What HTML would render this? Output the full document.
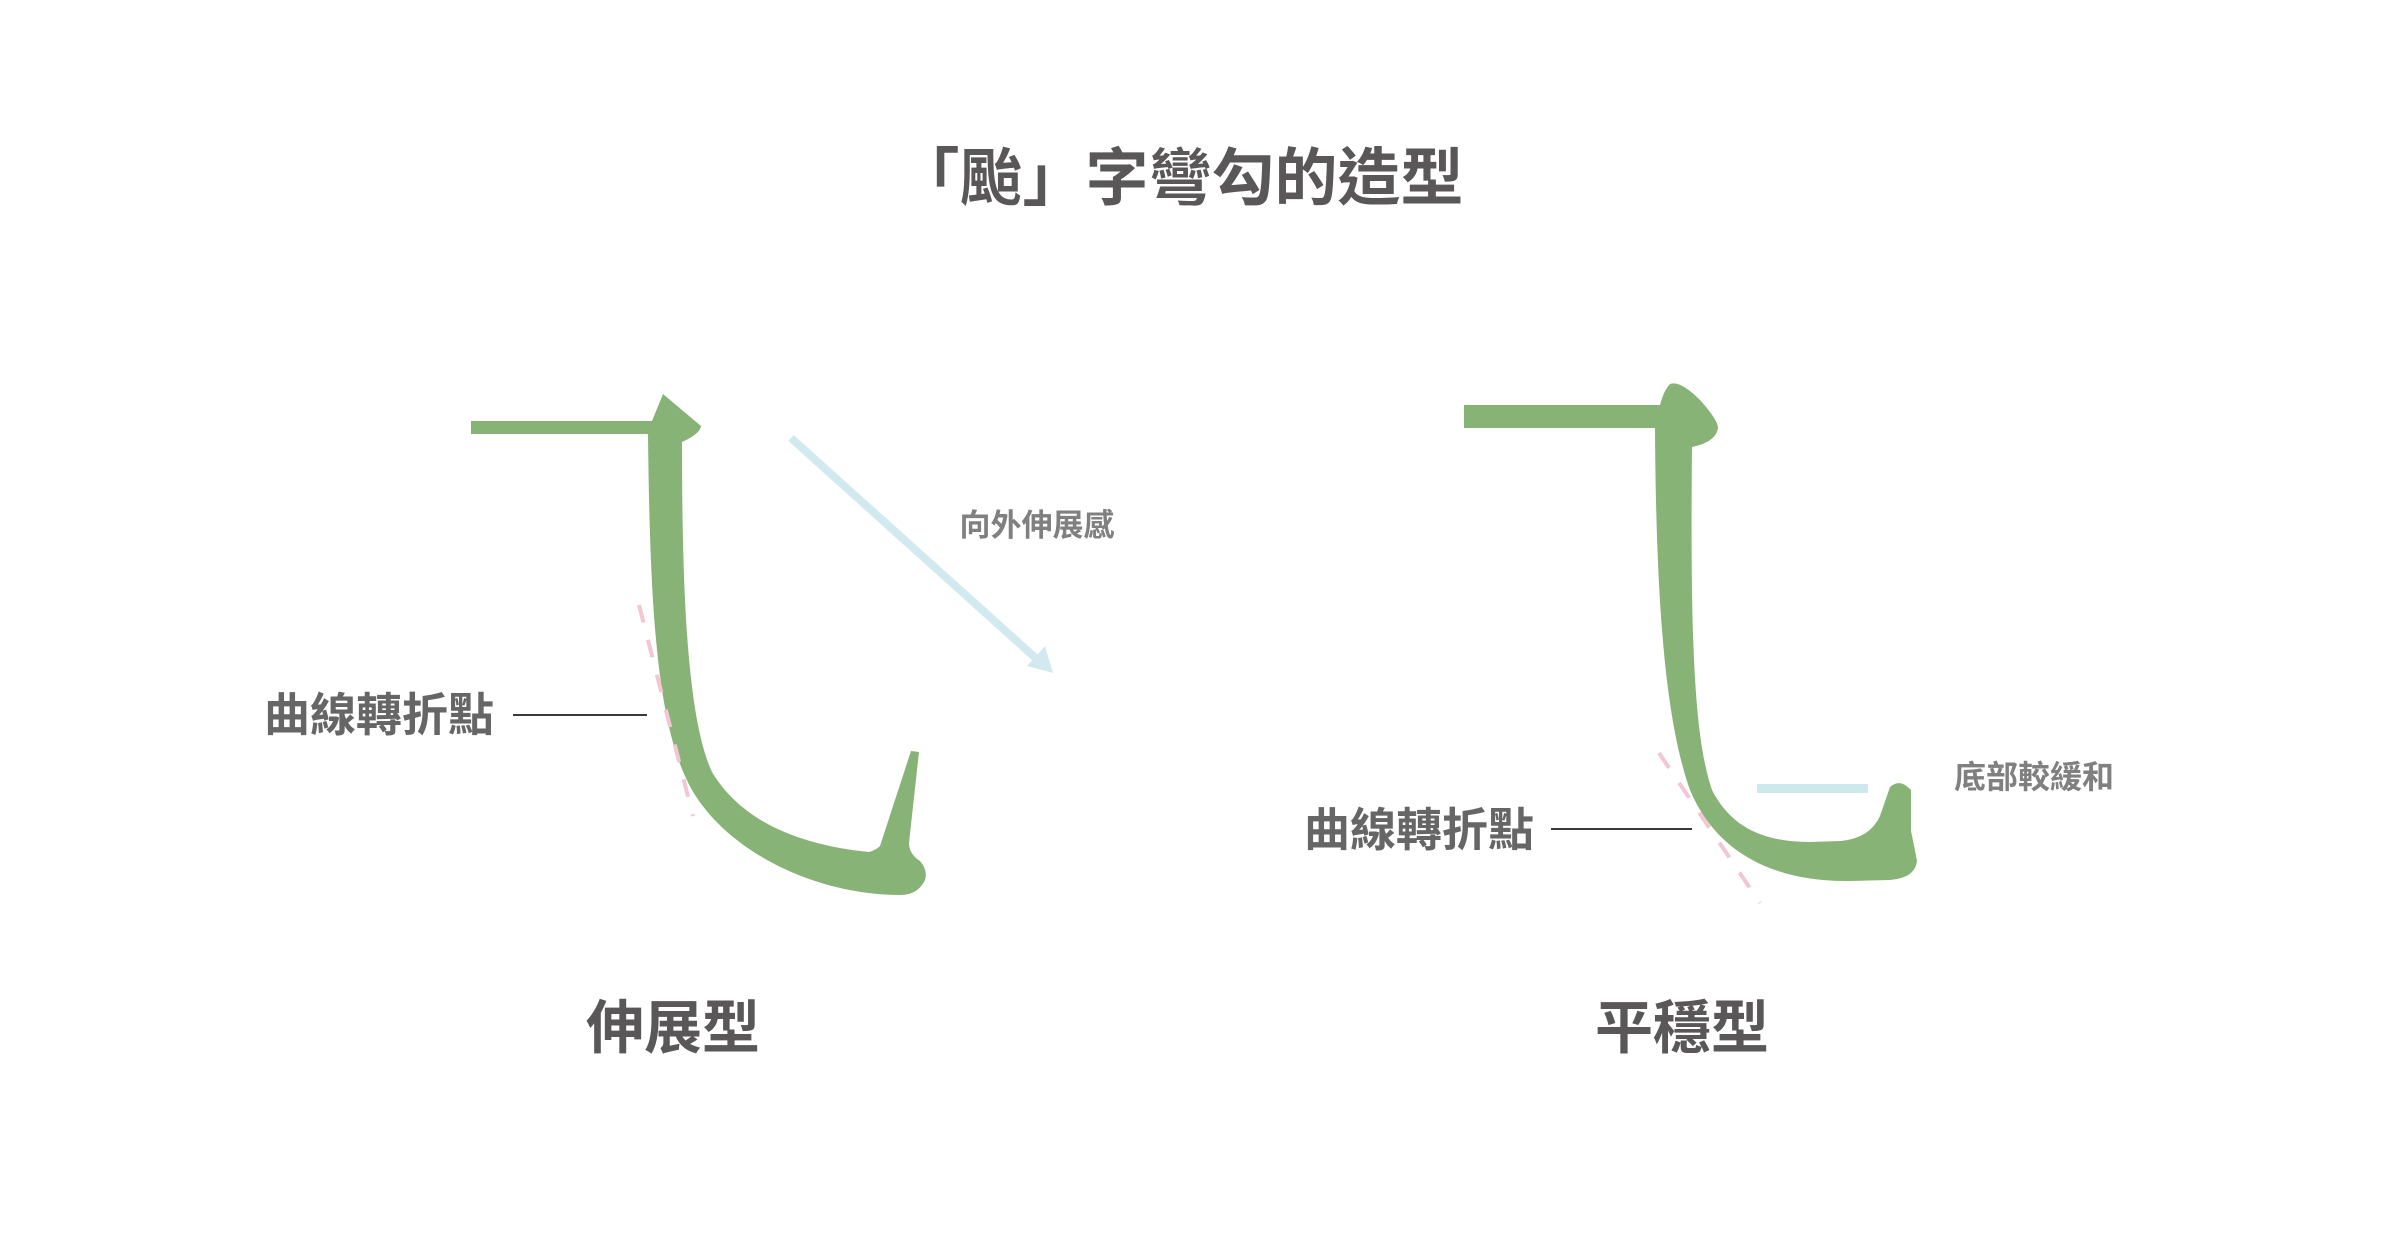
<!DOCTYPE html>
<html><head><meta charset="utf-8"><style>
html,body{margin:0;padding:0;background:#fff}
svg{display:block}
text{font-family:"Liberation Sans","Noto Sans CJK TC",sans-serif}
</style></head><body>
<svg width="2400" height="1256" viewBox="0 0 2400 1256" xmlns="http://www.w3.org/2000/svg">
<rect width="2400" height="1256" fill="#fff"/>
<text x="1180" y="200" font-size="63" font-weight="bold" fill="#595757" text-anchor="middle">「颱」字彎勾的造型</text>

<!-- left stroke -->
<rect x="471" y="421" width="182" height="13" fill="#88b377"/>
<path d="M648,434 L652,421 L663,394 L701,426 Q700,434 682,442 C682,600 688,720 712,772 C742,822 800,845 869,852 Q876,850 880,846 L911,751 L919,752 L909,843 Q909,854 920,861 Q928,870 925,880 Q918,895 900,895 C820,895 730,855 692,790 C658,730 650,620 648,434 Z" fill="#88b377"/>
<line x1="639" y1="605" x2="693" y2="816" stroke="#f3c6d3" stroke-width="4" stroke-dasharray="18,18"/>
<line x1="513" y1="715" x2="647" y2="715" stroke="#3a3a3a" stroke-width="2"/>
<text x="379" y="731" font-size="46" font-weight="bold" fill="#666" text-anchor="middle">曲線轉折點</text>
<line x1="791" y1="438" x2="1040" y2="662" stroke="#d2eaef" stroke-width="8"/>
<polygon points="1053,673 1027,666 1045,646" fill="#d2eaef"/>
<text x="1037" y="536" font-size="31" font-weight="bold" fill="#808080" text-anchor="middle">向外伸展感</text>
<text x="673" y="1048" font-size="58" font-weight="bold" fill="#595757" text-anchor="middle">伸展型</text>

<!-- right stroke -->
<rect x="1464" y="405" width="198" height="23" fill="#88b377"/>
<path d="M1655,428 L1660,405 Q1664,390 1670,384 Q1680,380 1700,400 Q1718,420 1718,428 Q1716,442 1692,447 C1690,650 1695,740 1712,790 C1730,825 1760,842 1810,842 L1841,841 Q1870,838 1880,816 L1890,787 Q1900,778 1911,790 L1911,831 Q1915,850 1917,861 Q1915,878 1890,880 L1850,881 C1770,882 1715,850 1690,790 C1665,720 1656,600 1655,428 Z" fill="#88b377"/>
<line x1="1659" y1="753" x2="1760" y2="903" stroke="#f3c6d3" stroke-width="4" stroke-dasharray="18,18"/>
<rect x="1757" y="784" width="111" height="9" fill="#cde9ee"/>
<line x1="1551" y1="829" x2="1692" y2="829" stroke="#3a3a3a" stroke-width="2"/>
<text x="1419" y="846" font-size="46" font-weight="bold" fill="#666" text-anchor="middle">曲線轉折點</text>
<text x="2034" y="788" font-size="32" font-weight="bold" fill="#808080" text-anchor="middle">底部較緩和</text>
<text x="1682" y="1048" font-size="58" font-weight="bold" fill="#595757" text-anchor="middle">平穩型</text>
</svg>
</body></html>
